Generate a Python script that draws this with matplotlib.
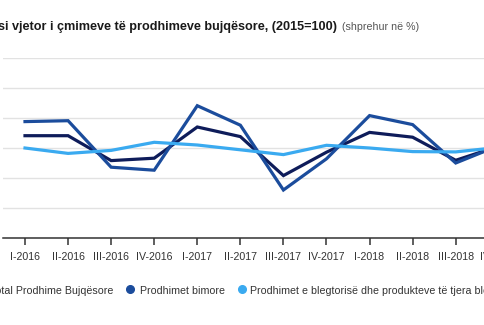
import matplotlib
matplotlib.use("Agg")
import matplotlib.pyplot as plt
from matplotlib import font_manager
from matplotlib.lines import Line2D

# quarterly annual price index, 2015=100
quarters = ["I-2016", "II-2016", "III-2016", "IV-2016",
            "I-2017", "II-2017", "III-2017", "IV-2017",
            "I-2018", "II-2018", "III-2018", "IV-2018"]
total = [102.05, 102.05, 97.9, 98.3, 103.5, 101.9, 95.4, 99.3, 102.6, 101.8, 97.95, 100.3]
bimore = [104.4, 104.55, 96.8, 96.3, 107.05, 103.8, 93.0, 98.2, 105.4, 103.9, 97.5, 100.4]
blegtori = [100.0, 99.1, 99.6, 100.95, 100.5, 99.7, 98.9, 100.45, 100.0, 99.4, 99.35, 100.1]

series_names = ["Total Prodhime Bujqësore", "Prodhimet bimore",
                "Prodhimet e blegtorisë dhe produkteve të tjera blegtorale"]
colors = ["#0e1c5a", "#1b4c9c", "#3aaaf0"]

yticks = [85, 90, 95, 100, 105, 110, 115]

# a narrow face if there is one, otherwise plain Liberation Sans set smaller
installed = {f.name for f in font_manager.fontManager.ttflist}
if "Liberation Sans Narrow" in installed:
    FONT, k = "Liberation Sans Narrow", 1.0
else:
    FONT, k = "Liberation Sans", 0.83
plt.rcParams["font.family"] = [FONT, "DejaVu Sans"]

W, H = 485, 325
fig = plt.figure(figsize=(W / 100, H / 100), dpi=100)

# axes run past the right edge, the chart is wider than the saved frame
left_px, right_px, top_px, base_px = 3, 520, 58, 238
step_px, first_px = 43.07, 25
ax = fig.add_axes([left_px / W, 1 - base_px / H,
                   (right_px - left_px) / W, (base_px - top_px) / H])

x = list(range(len(quarters)))
for vals, c in zip([total, bimore, blegtori], colors):
    ax.plot(x, vals, color=c, lw=2.3, solid_joinstyle="miter", zorder=3)

ax.set_xlim((left_px - first_px) / step_px, (right_px - first_px) / step_px)
ax.set_ylim(yticks[0], yticks[-1])
ax.set_yticks(yticks)
ax.set_xticks(x)
ax.set_xticklabels(quarters)
ax.grid(axis="y", color="#e2e2e2", lw=1.0, zorder=0)
ax.grid(axis="x", visible=False)
for s in ["top", "right", "left"]:
    ax.spines[s].set_visible(False)
ax.spines["bottom"].set_color("#333333")
ax.spines["bottom"].set_linewidth(1.1)
ax.tick_params(axis="y", left=False, labelleft=False)
ax.tick_params(axis="x", direction="out", length=5, width=1.1, color="#333333",
               labelsize=9.2 * k, labelcolor="#333333", pad=5)

# title
fig.text(337 / W, 1 - 30 / H, "Indeksi vjetor i çmimeve të prodhimeve bujqësore, (2015=100)",
         ha="right", va="baseline", fontsize=10.5 * (0.87 if k < 1 else 1.0),
         fontweight="bold", color="#1a1a1a")
fig.text(342 / W, 1 - 30 / H, "(shprehur në %)", ha="left", va="baseline",
         fontsize=9.2 * k, color="#555555")

# legend row
ly_text = 1 - 293.5 / H
ly_mark = 1 - 289 / H
fig.text(113 / W, ly_text, series_names[0], ha="right", va="baseline",
         fontsize=9.2 * k, color="#333333")
fig.text(140 / W, ly_text, series_names[1], ha="left", va="baseline",
         fontsize=9.2 * k, color="#333333")
fig.text(250 / W, ly_text, series_names[2], ha="left", va="baseline",
         fontsize=9.2 * k, color="#333333")
for mx, c in zip([-12, 130, 242], colors):
    fig.add_artist(Line2D([mx / W], [ly_mark], marker="o", markersize=5.5,
                          color=c, lw=0, transform=fig.transFigure))

fig.savefig("out.png", dpi=100)
